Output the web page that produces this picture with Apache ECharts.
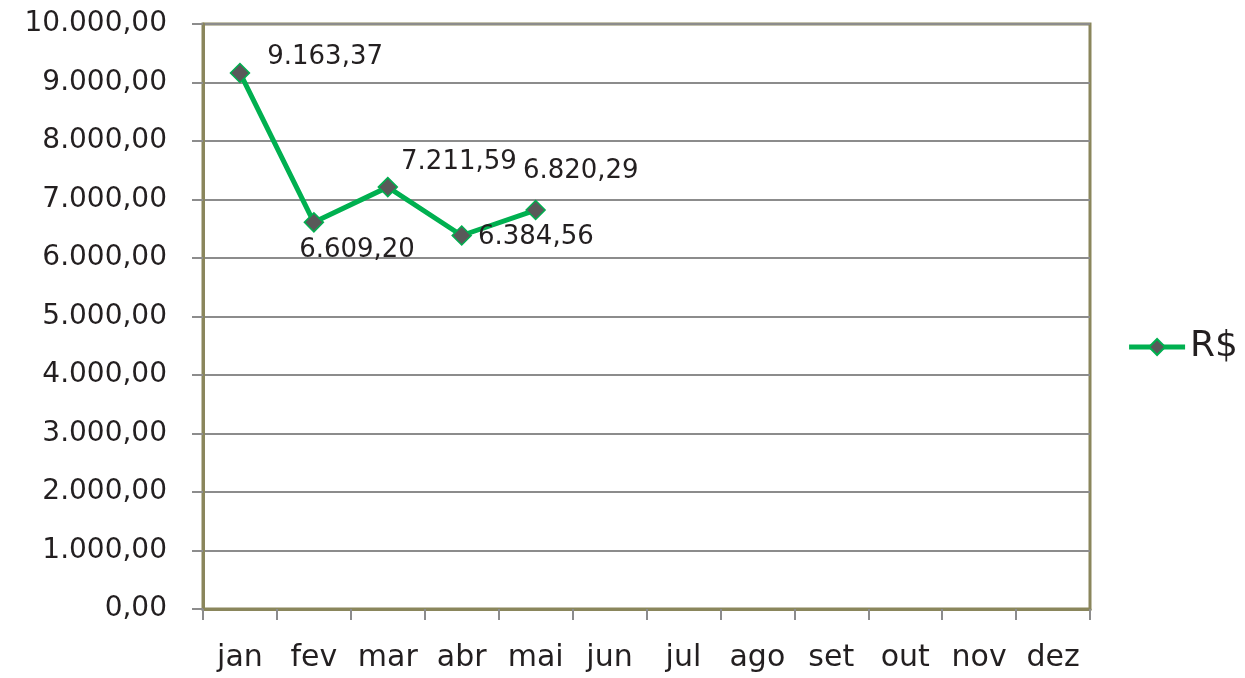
<!DOCTYPE html>
<html>
<head>
<meta charset="utf-8">
<script src="https://cdn.jsdelivr.net/npm/echarts@6/dist/echarts.min.js"></script>
<style>
html, body { margin: 0; padding: 0; background: #fff; }
#chart { width: 1245px; height: 678px; }
</style>
</head>
<body>
<div id="chart"></div>
<script>
// dados do gráfico
var meses = ['jan', 'fev', 'mar', 'abr', 'mai', 'jun', 'jul', 'ago', 'set', 'out', 'nov', 'dez'];
var valores = [9163.37, 6609.20, 7211.59, 6384.56, 6820.29, null, null, null, null, null, null, null];
var serieNome = 'R$';
// deslocamento dos rótulos por ponto
var rotuloOffset = [[12, -16], [-30, 28], [-2, -25], [1, 2], [-28, -39]];

function fmtBR(v, casas) {
	var s = Number(v).toFixed(casas);
	var partes = s.split('.');
	partes[0] = partes[0].replace(/\B(?=(\d{3})+(?!\d))/g, '.');
	return partes.join(',');
}

var fonte = '"DejaVu Sans", sans-serif';
var corTexto = '#231f20';

var myChart = echarts.init(document.getElementById('chart'));

var dados = valores.map(function (v, i) {
	if (v === null) return null;
	return {
		value: v,
		label: {
			show: true,
			position: 'right',
			distance: 5,
			offset: rotuloOffset[i] || [0, 0]
		}
	};
});

var option = {
	animation: false,
	textStyle: { fontFamily: fonte },
	grid: {
		show: true,
		left: 203,
		right: 155,
		top: 24,
		bottom: 69,
		borderColor: '#8a865c',
		borderWidth: 3,
		containLabel: false
	},
	legend: {
		right: 2,
		top: 324,
		orient: 'vertical',
		itemWidth: 56,
		itemHeight: 20,
		textStyle: { fontSize: 36, color: corTexto, fontFamily: fonte },
		lineStyle: { width: 5 },
		data: [serieNome]
	},
	xAxis: {
		type: 'category',
		data: meses,
		boundaryGap: true,
		axisLine: { lineStyle: { color: '#8a865c', width: 3 } },
		axisTick: { show: true, length: 11, lineStyle: { color: '#8c8c8c', width: 2 } },
		axisLabel: { color: corTexto, fontSize: 30, margin: 34, interval: 0 }
	},
	yAxis: {
		type: 'value',
		min: 0,
		max: 10000,
		interval: 1000,
		axisLine: { show: true, lineStyle: { color: '#8a865c', width: 3 } },
		axisTick: { show: true, length: 11, lineStyle: { color: '#8c8c8c', width: 2 } },
		splitLine: { lineStyle: { color: '#8c8c8c', width: 2 } },
		axisLabel: {
			color: corTexto,
			fontSize: 28,
			margin: 36,
			formatter: function (v) { return fmtBR(v, 2); }
		}
	},
	series: [{
		name: serieNome,
		type: 'line',
		data: dados,
		connectNulls: false,
		symbol: 'diamond',
		symbolSize: 19,
		lineStyle: { color: '#00b050', width: 5 },
		itemStyle: { color: '#595959', borderColor: '#00b050', borderWidth: 1.5 },
		label: {
			fontSize: 26,
			color: corTexto,
			formatter: function (p) { return fmtBR(p.value, 2); }
		}
	}]
};

myChart.setOption(option);
</script>
</body>
</html>
